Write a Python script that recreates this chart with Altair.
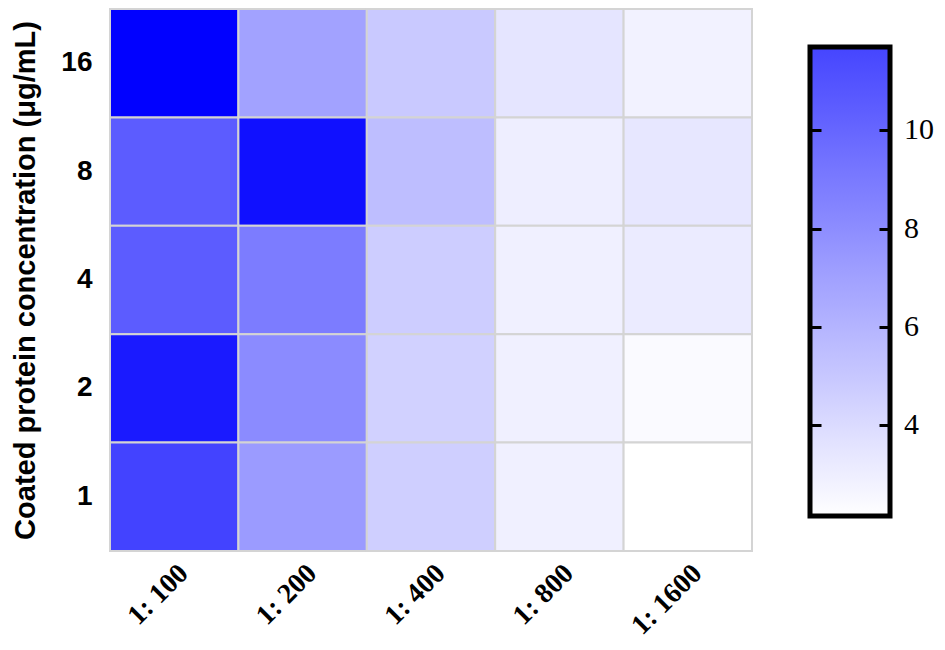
import altair as alt
import pandas as pd

dilutions = ["1: 100", "1: 200", "1: 400", "1: 800", "1: 1600"]
concentrations = ["16", "8", "4", "2", "1"]
# one list per coated concentration, values per dilution
row_16 = [15.2, 6.9, 4.9, 3.5, 2.8]
row_8 = [10.5, 14.4, 5.5, 3.0, 3.4]
row_4 = [10.5, 8.9, 4.7, 2.9, 3.2]
row_2 = [13.9, 8.1, 4.5, 2.9, 2.4]
row_1 = [11.8, 7.3, 4.6, 2.9, 2.15]
legend_ticks = [4, 6, 8, 10]
color_domain = [2.15, 11.7]

rows = {"16": row_16, "8": row_8, "4": row_4, "2": row_2, "1": row_1}
records = []
for c in concentrations:
    for d, v in zip(dilutions, rows[c]):
        records.append({"conc": c, "dilution": d, "value": v})
df = pd.DataFrame(records)

W, H = 642, 542
LEG_X, LEG_Y, LEG_LEN, LEG_TH = 700, 38, 469, 80

cells = alt.Chart(df).mark_rect(stroke="#d4d4d4", strokeWidth=2).encode(
    x=alt.X("dilution:N", sort=dilutions,
            scale=alt.Scale(paddingInner=0, paddingOuter=0),
            axis=alt.Axis(orient="bottom", title=None, domain=False, ticks=False,
                          labelAngle=-45, labelFont="Liberation Serif",
                          labelFontWeight="bold", labelFontSize=28, labelColor="black",
                          labelPadding=8)),
    y=alt.Y("conc:N", sort=concentrations,
            scale=alt.Scale(paddingInner=0, paddingOuter=0),
            axis=alt.Axis(title="Coated protein concentration (μg/mL)",
                          titleFont="Liberation Sans",
                          titleFontWeight="bold",
                          titleFontSize=29, titleColor="black", titlePadding=20,
                          labelFont="Liberation Sans", labelFontWeight="bold",
                          labelFontSize=28, labelColor="black", labelAngle=0,
                          labelPadding=18, domain=False, ticks=False, orient="left")),
    color=alt.Color("value:Q", title=None,
                    scale=alt.Scale(domain=color_domain, range=["#ffffff", "#4545ff"],
                                    interpolate="rgb", zero=False, nice=False, clamp=False),
                    legend=alt.Legend(orient="none", legendX=LEG_X, legendY=LEG_Y,
                                      direction="vertical", gradientLength=LEG_LEN,
                                      gradientThickness=LEG_TH, gradientStrokeColor="black",
                                      gradientStrokeWidth=5, values=legend_ticks,
                                      labelFont="Liberation Serif", labelFontSize=30,
                                      labelColor="black", labelOffset=14, padding=0)),
)

tickdf = pd.DataFrame({"tick": legend_ticks})
tick_scale = alt.Scale(domain=color_domain, range=[LEG_Y + LEG_LEN, LEG_Y], zero=False, nice=False)

ticks_left = alt.Chart(tickdf).mark_point(opacity=0).encode(
    y=alt.Y("tick:Q", scale=tick_scale,
            axis=alt.Axis(orient="right", offset=LEG_X - W, values=legend_ticks,
                          labels=False, domain=False, grid=False, title=None,
                          tickSize=11, tickWidth=3, tickColor="black", zindex=1)),
)
ticks_right = alt.Chart(tickdf).mark_point(opacity=0).encode(
    y=alt.Y("tick:Q", scale=tick_scale,
            axis=alt.Axis(orient="left", offset=-(LEG_X + LEG_TH), values=legend_ticks,
                          labels=False, domain=False, grid=False, title=None,
                          tickSize=11, tickWidth=3, tickColor="black", zindex=1)),
)

chart = alt.layer(cells, ticks_left, ticks_right).resolve_scale(
    y="independent"
).properties(
    width=W, height=H,
    padding={"left": 3, "top": 0, "right": 0, "bottom": 0},
).configure_view(stroke=None)

chart.save("out.html", embed_options={"renderer": "svg", "actions": False})
